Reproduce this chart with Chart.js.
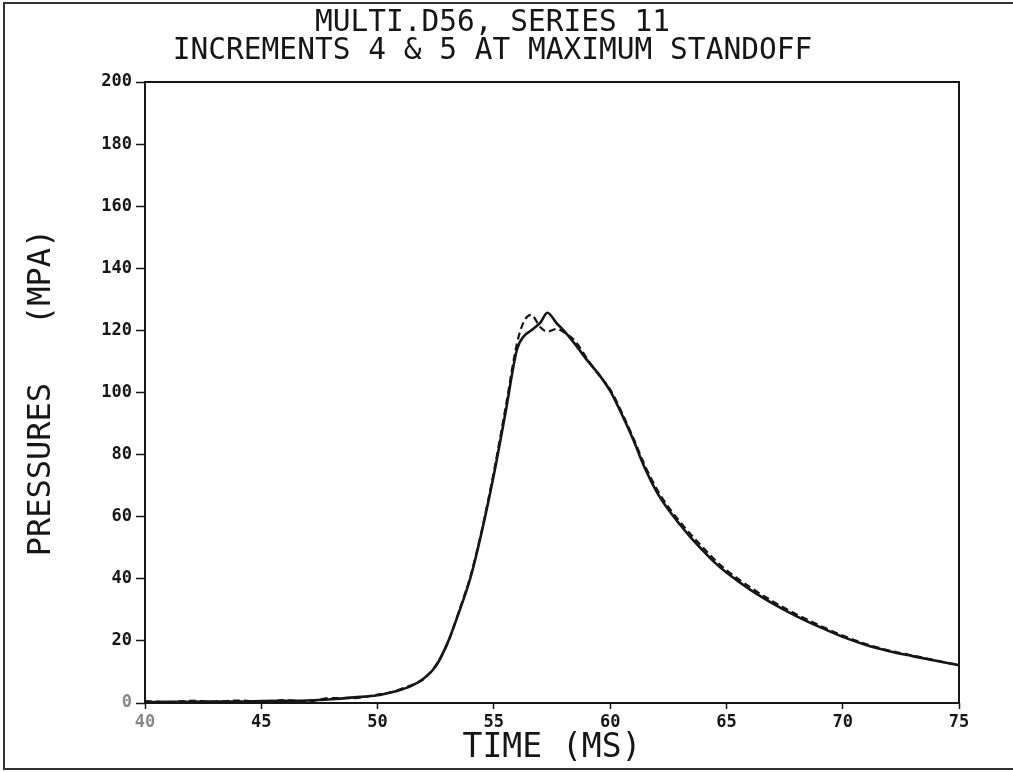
<!DOCTYPE html>
<html>
<head>
<meta charset="utf-8">
<title>MULTI.D56, SERIES 11</title>
<script src="https://cdn.jsdelivr.net/npm/chart.js@4.4.1/dist/chart.umd.min.js"></script>
<style>
  html, body { margin: 0; padding: 0; background: #fff; }
  #chart { display: block; }
</style>
</head>
<body>
<canvas id="chart" width="1013" height="772"></canvas>
<script>

// time axis (ms) shared by both traces
const timeMs = [40, 41, 42, 43, 44, 45, 46, 47, 48, 49, 50, 50.5, 51, 51.5, 52, 52.5, 53, 53.5, 54, 54.5,
  55, 55.5, 56, 56.3, 56.6, 57, 57.3, 57.7, 58, 58.5, 59, 59.5, 60, 60.5, 61, 61.5, 62, 62.5, 63, 63.5,
  64, 64.5, 65, 66, 67, 68, 69, 70, 71, 72, 73, 74, 75]

// increment 4 (solid)
const pressureSolid = [0.3, 0.4, 0.4, 0.5, 0.5, 0.6, 0.7, 0.8, 1.2, 1.8, 2.5, 3.3, 4.3, 5.7, 8, 11.8, 19.2, 29.2, 40.5, 55.8,
  73.5, 93.5, 114, 118.2, 120, 122.5, 125.7, 122.3, 120, 115.5, 110.5, 106, 100.5, 93, 84.7, 75.5, 68, 62.3, 57.5, 53,
  49, 45.2, 42, 36.6, 32, 28, 24.5, 21.3, 18.7, 16.7, 15.1, 13.6, 12.2]

// increment 5 (dashed)
const pressureDashed = [0.6, 0.3, 0.7, 0.4, 0.8, 0.5, 0.9, 0.6, 1.6, 1.6, 2.7, 3.3, 4.5, 5.9, 7.8, 12.1, 19, 29.6, 41, 56.3,
  74.5, 95, 116, 123, 125, 121, 119.6, 120.5, 119.5, 116.5, 111, 105.8, 101, 93.6, 85.3, 76.4, 69, 63.2, 58.4, 54,
  50, 46.1, 42.8, 37.4, 32.7, 28.6, 25, 21.7, 19, 16.9, 15.3, 13.7, 12.2]

const titleLines = ['MULTI.D56, SERIES 11', 'INCREMENTS 4 & 5 AT MAXIMUM STANDOFF']
const xTitle = 'TIME (MS)'
const yTitle = 'PRESSURES   (MPA)'
const xTicks = { min: 40, max: 75, step: 5 }
const yTicks = { min: 0, max: 200, step: 20 }

const plotFont = "'DejaVu Sans Mono', 'Liberation Mono', monospace"
const ink = '#161616'

var toPoints = (ys) => timeMs.map((t, i) => ({ x: t, y: ys[i] }))

// white page, outer frame and the box round the plot
const framePlugin = {
  id: 'frames',
  beforeDraw: (chart) => {
    const ctx = chart.ctx
    ctx.save()
    ctx.fillStyle = '#fff'
    ctx.fillRect(0, 0, chart.width, chart.height)
    ctx.strokeStyle = '#333'
    ctx.lineWidth = 2
    ctx.strokeRect(4, 3, chart.width + 10, 766)
    ctx.restore()
  },
  afterDatasetsDraw: (chart) => {
    const { ctx, chartArea: a } = chart
    ctx.save()
    ctx.strokeStyle = ink
    ctx.lineWidth = 2
    ctx.strokeRect(a.left, a.top, a.right - a.left, a.bottom - a.top)
    ctx.restore()
  }
}

var build_chart = () => {
  const ctx = document.getElementById('chart').getContext('2d')
  globalThis.myChart = new Chart(ctx, {
    type: 'line',
    data: {
      datasets: [
        {
          label: 'Increment 4',
          data: toPoints(pressureSolid),
          borderColor: ink,
          borderWidth: 2.6,
          pointRadius: 0,
          cubicInterpolationMode: 'monotone',
          fill: false
        },
        {
          label: 'Increment 5',
          data: toPoints(pressureDashed),
          borderColor: ink,
          borderWidth: 2.2,
          borderDash: [7, 4],
          pointRadius: 0,
          cubicInterpolationMode: 'monotone',
          fill: false
        }
      ]
    },
    options: {
      responsive: false,
      devicePixelRatio: 1,
      animation: false,
      layout: { padding: { top: 8, left: 26, right: 54, bottom: 6 } },
      plugins: {
        legend: { display: false },
        tooltip: { enabled: false },
        title: {
          display: true,
          text: titleLines,
          color: ink,
          font: { family: plotFont, size: 29.5, weight: 'normal', lineHeight: '28px' },
          padding: { top: 1, bottom: 17 }
        }
      },
      scales: {
        x: {
          type: 'linear',
          min: xTicks.min,
          max: xTicks.max,
          afterFit: (scale) => { scale.height = 63 },
          grid: { drawOnChartArea: false, drawTicks: true, tickLength: 6, tickColor: ink, tickWidth: 1.5 },
          border: { display: false },
          ticks: {
            stepSize: xTicks.step,
            padding: 3,
            maxRotation: 0,
            color: (c) => c.index === 0 ? '#888' : ink,
            font: { family: plotFont, size: 17, weight: 'bold' }
          },
          title: {
            display: true,
            text: xTitle,
            color: ink,
            font: { family: plotFont, size: 33, lineHeight: 1 },
            padding: { top: 0, bottom: 1 }
          }
        },
        y: {
          type: 'linear',
          min: yTicks.min,
          max: yTicks.max,
          afterFit: (scale) => { scale.width = 119 },
          grid: { drawOnChartArea: false, drawTicks: true, tickLength: 9, tickColor: ink, tickWidth: 1.5 },
          border: { display: false },
          ticks: {
            stepSize: yTicks.step,
            padding: 4,
            color: (c) => c.index === 0 ? '#888' : ink,
            font: { family: plotFont, size: 17, weight: 'bold' }
          },
          title: {
            display: true,
            text: yTitle,
            color: ink,
            font: { family: plotFont, size: 32, lineHeight: 1 },
            padding: { top: 0, bottom: 0 }
          }
        }
      }
    },
    plugins: [framePlugin]
  })
}

window.addEventListener('load', build_chart)
</script>
</body>
</html>
